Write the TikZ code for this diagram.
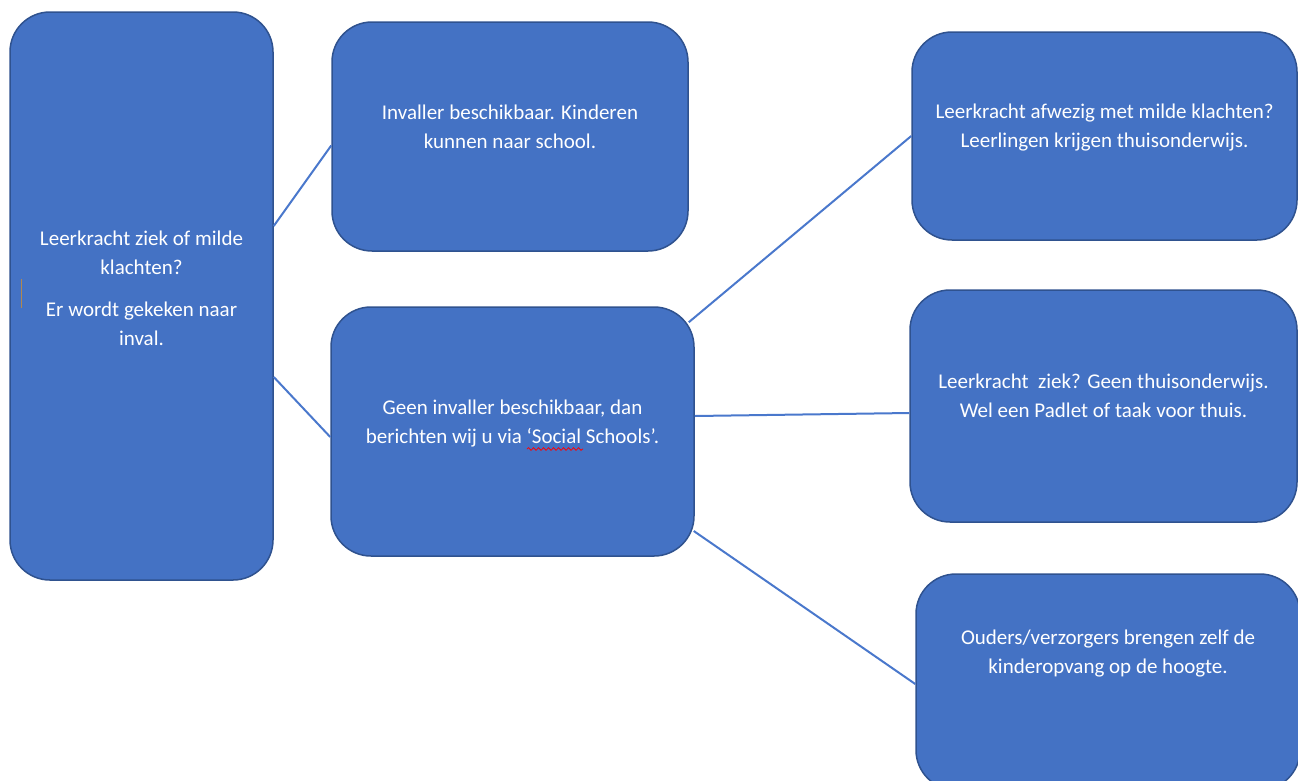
\documentclass[tikz,border=0pt]{standalone}
\usepackage{fontspec}
\setmainfont{Carlito}
\usepackage{xcolor}
\usepackage{tikz}
\usetikzlibrary{decorations.pathmorphing}

\definecolor{blokblauw}{HTML}{4472C4}
\definecolor{randblauw}{HTML}{2F528F}
\definecolor{lijnblauw}{HTML}{4A78CC}
\definecolor{cursorbruin}{HTML}{B08850}

\begin{document}
\begin{tikzpicture}[
x=1pt, y=-1pt,
blok/.style={rectangle, rounded corners=40pt, draw=randblauw, line width=1.5pt, fill=blokblauw, text=white, align=center, font=\fontsize{21}{29}\selectfont, text depth=20pt},
lijn/.style={draw=lijnblauw, line width=2pt},
golf/.style={draw=red, line width=0.8pt, decorate, decoration={snake, amplitude=1.3pt, segment length=5pt}}
]
\useasboundingbox (0,0) rectangle (1298,780);

% Vraag
\node[blok, minimum width=263pt, minimum height=568pt, text depth=16pt] (ziek) at (141.5,296) {Leerkracht ziek of milde\\klachten?\\[13pt]Er wordt gekeken naar\\inval.};
\draw[cursorbruin, line width=1pt] (21,279) -- (21,308);

% Invaller of niet
\node[blok, minimum width=356pt, minimum height=229pt] (wel) at (510,136.5) {Invaller beschikbaar. Kinderen\\kunnen naar school.};
\node[blok, minimum width=363pt, minimum height=249pt] (geen) at (512.5,431.5) {Geen invaller beschikbaar, dan\\berichten wij u via `Social Schools'.};
\draw[golf] (527,449) -- (583,449);

% Gevolgen
\node[blok, minimum width=385pt, minimum height=208pt] (afwezig) at (1104.5,136) {Leerkracht afwezig met milde klachten?\\Leerlingen krijgen thuisonderwijs.};
\node[blok, minimum width=387pt, minimum height=232pt] (padlet) at (1103.5,406) {Leerkracht\ \ ziek? Geen thuisonderwijs.\\Wel een Padlet of taak voor thuis.};
\node[blok, minimum width=384pt, minimum height=216pt, text depth=61pt] (opvang) at (1108,682) {Ouders/verzorgers brengen zelf de\\kinderopvang op de hoogte.};

% Lijnen
\draw[lijn] ([yshift=70pt]ziek.east) -- ([yshift=-9pt]wel.west);
\draw[lijn] ([yshift=-81pt]ziek.east) -- ([yshift=-5.5pt]geen.west);
\draw[lijn] ([xshift=-6pt,yshift=-16pt]geen.north east) -- (afwezig.west);
\draw[lijn] ([yshift=15.5pt]geen.east) -- ([yshift=-7pt]padlet.west);
\draw[lijn] ([xshift=-1pt,yshift=-99.5pt]geen.east) -- ([yshift=-2pt]opvang.west);

\end{tikzpicture}
\end{document}
